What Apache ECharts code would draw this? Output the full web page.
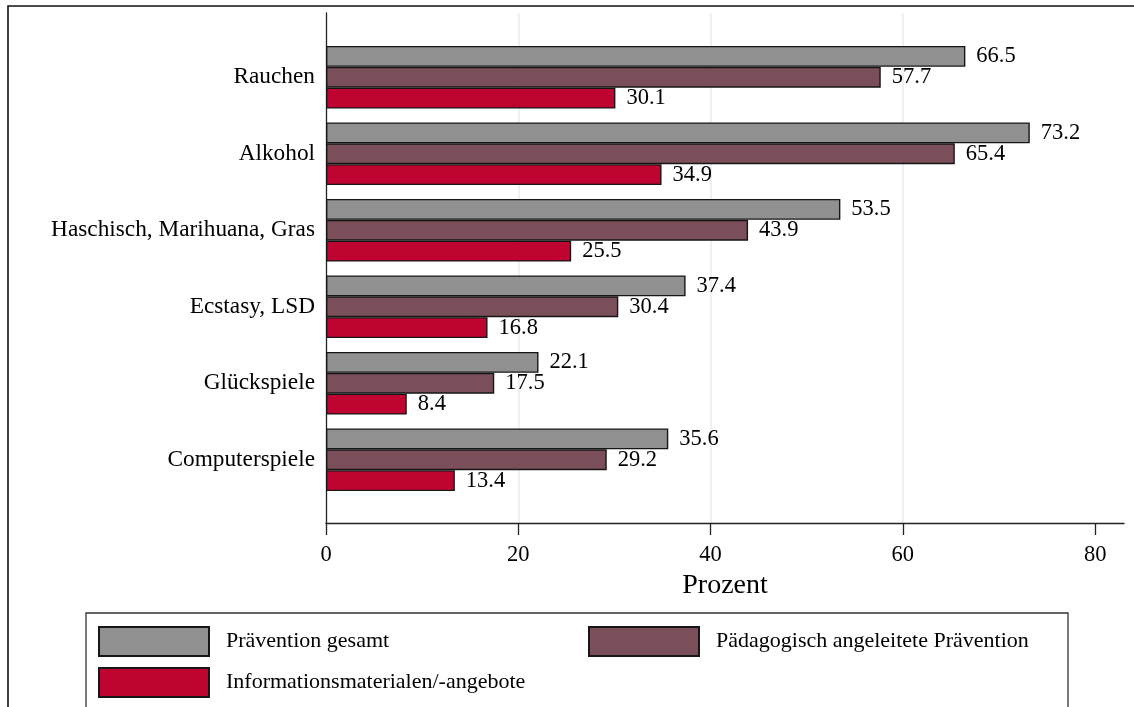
<!DOCTYPE html>
<html>
<head>
<meta charset="utf-8">
<script src="https://cdn.jsdelivr.net/npm/echarts@6/dist/echarts.min.js"></script>
<style>
  html, body { margin: 0; padding: 0; background: #fff; }
  #chart { width: 1134px; height: 707px; }
</style>
</head>
<body>
<div id="chart"></div>
<script>
// Kategorien (von oben nach unten)
var kategorien = ['Rauchen', 'Alkohol', 'Haschisch, Marihuana, Gras', 'Ecstasy, LSD', 'Glückspiele', 'Computerspiele'];
// Prozentwerte je Reihe
var praeventionGesamt = [66.5, 73.2, 53.5, 37.4, 22.1, 35.6];
var paedagogisch = [57.7, 65.4, 43.9, 30.4, 17.5, 29.2];
var infoMaterial = [30.1, 34.9, 25.5, 16.8, 8.4, 13.4];
var reihenNamen = ['Prävention gesamt', 'Pädagogisch angeleitete Prävention', 'Informationsmaterialen/-angebote'];
var xTicks = [0, 20, 40, 60, 80];

var font = "'Liberation Serif', 'Times New Roman', serif";
var farben = ['#909090', '#7b4f59', '#c00431'];

function barSerie(name, data, color) {
    return {
        type: 'bar',
        name: name,
        data: data,
        xAxisIndex: 0,
        yAxisIndex: 0,
        barGap: 0,
        barCategoryGap: '18%',
        itemStyle: { color: color, borderColor: '#161616', borderWidth: 1.4 },
        label: {
            show: true,
            position: 'right',
            distance: 11,
            color: '#000',
            fontFamily: font,
            fontSize: 22.5,
            formatter: function (p) { return p.value.toFixed(1); }
        },
        emphasis: { disabled: true }
    };
}

function legende(name, left, top) {
    return {
        data: [name],
        left: left,
        top: top,
        padding: 0,
        itemWidth: 110,
        itemHeight: 29,
        icon: 'rect',
        selectedMode: false,
        textStyle: { fontFamily: font, fontSize: 22, color: '#000', padding: [0, 0, 0, 12] }
    };
}

var option = {
    animation: false,
    backgroundColor: '#fff',
    grid: [
        { left: 326, right: 10, top: 39, bottom: 209 },
        { left: 326, right: 10, top: 13, bottom: 184 }
    ],
    xAxis: [
        { gridIndex: 0, type: 'value', min: 0, max: 83, show: false },
        {
            gridIndex: 1, type: 'value', min: 0, max: 83, interval: 20,
            name: 'Prozent',
            nameLocation: 'middle',
            nameGap: 44,
            nameTextStyle: { fontFamily: font, fontSize: 28, color: '#000' },
            axisLine: { show: true, lineStyle: { color: '#222', width: 1.3 } },
            axisTick: { show: true, length: 12, customValues: xTicks, lineStyle: { color: '#222', width: 1.3 } },
            axisLabel: { customValues: xTicks, margin: 21, fontFamily: font, fontSize: 22.5, color: '#000' },
            splitLine: { show: true, showMinLine: false, showMaxLine: false, lineStyle: { color: '#e3eff1', width: 1.5 } }
        }
    ],
    yAxis: [
        {
            gridIndex: 0, type: 'category', data: kategorien, inverse: true,
            axisLine: { show: false },
            axisTick: { show: false },
            axisLabel: { margin: 11, fontFamily: font, fontSize: 23.3, color: '#000' }
        },
        {
            gridIndex: 1, type: 'value', min: 0, max: 1,
            axisLine: { show: true, lineStyle: { color: '#222', width: 1.3 } },
            axisTick: { show: false },
            axisLabel: { show: false },
            splitLine: { show: false }
        }
    ],
    legend: [
        legende(reihenNamen[0], 98, 626),
        legende(reihenNamen[1], 588, 626),
        legende(reihenNamen[2], 98, 667)
    ],
    graphic: [
        // Rahmen um die ganze Grafik
        { type: 'rect', shape: { x: 8, y: 6, width: 1200, height: 800 }, style: { fill: 'none', stroke: '#111', lineWidth: 1.6 }, silent: true },
        // Rahmen der Legende
        { type: 'rect', shape: { x: 86, y: 613, width: 982, height: 150 }, style: { fill: 'none', stroke: '#333', lineWidth: 1.3 }, silent: true }
    ],
    series: [
        barSerie(reihenNamen[0], praeventionGesamt, farben[0]),
        barSerie(reihenNamen[1], paedagogisch, farben[1]),
        barSerie(reihenNamen[2], infoMaterial, farben[2])
    ]
};

var chart = echarts.init(document.getElementById('chart'));
chart.setOption(option);
</script>
</body>
</html>
